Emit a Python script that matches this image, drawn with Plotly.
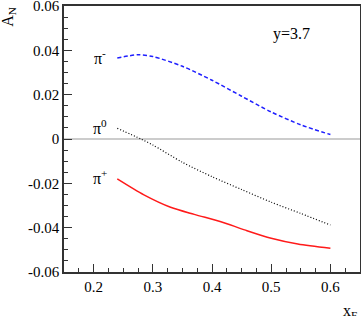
import plotly.graph_objects as go

# Asymmetry A_N vs x_F at y=3.7
x_pim = [0.24, 0.275, 0.30, 0.35, 0.40, 0.45, 0.50, 0.55, 0.60]
an_pim = [0.0365, 0.0380, 0.0372, 0.0328, 0.0265, 0.0193, 0.0122, 0.0064, 0.0020]

x_pi0 = [0.24, 0.28, 0.30, 0.35, 0.40, 0.45, 0.50, 0.55, 0.60]
an_pi0 = [0.0048, 0.0, -0.0027, -0.0105, -0.0170, -0.0228, -0.0285, -0.0336, -0.0388]

x_pip = [0.24, 0.285, 0.33, 0.37, 0.415, 0.455, 0.50, 0.545, 0.60]
an_pip = [-0.0180, -0.0252, -0.0308, -0.0340, -0.0373, -0.0410, -0.0448, -0.0474, -0.0493]

x_ticks = [0.2, 0.3, 0.4, 0.5, 0.6]
x_ticktext = ["0.2", "0.3", "0.4", "0.5", "0.6"]
y_ticks = [-0.06, -0.04, -0.02, 0, 0.02, 0.04, 0.06]
y_ticktext = ["-0.06", "-0.04", "-0.02", "0", "0.02", "0.04", "0.06"]

font_family = "Times New Roman, Liberation Serif, DejaVu Serif, serif"

fig = go.Figure()

# zero reference line
fig.add_trace(go.Scatter(
    x=[0.15, 0.65], y=[0, 0], mode="lines",
    line=dict(color="#9a9a9a", width=1.2), hoverinfo="skip",
))

fig.add_trace(go.Scatter(
    x=x_pim, y=an_pim, mode="lines", name="pi-",
    line=dict(color="#1f1fff", width=1.5, dash="4px,2.5px", shape="spline", smoothing=0.8),
))
fig.add_trace(go.Scatter(
    x=x_pi0, y=an_pi0, mode="lines", name="pi0",
    line=dict(color="black", width=1.2, dash="1px,2px", shape="spline", smoothing=0.8),
))
fig.add_trace(go.Scatter(
    x=x_pip, y=an_pip, mode="lines", name="pi+",
    line=dict(color="#ff1a1a", width=1.5, shape="spline", smoothing=0.8),
))

# curve labels
for txt, xx, yy in [("π<sup>-</sup>", 0.211, 0.0368),
                    ("π<sup>0</sup>", 0.211, 0.0055),
                    ("π<sup>+</sup>", 0.211, -0.0172),
                    ("y=3.7", 0.535, 0.0474)]:
    fig.add_annotation(x=xx, y=yy, text=txt, showarrow=False,
                       font=dict(family=font_family, size=16, color="black"))

# axis titles
fig.add_annotation(x=-0.186, y=0.959, xref="paper", yref="paper", text="A<sub>N</sub>",
                   showarrow=False, textangle=-90, xanchor="center", yanchor="middle",
                   font=dict(family=font_family, size=16, color="black"))
fig.add_annotation(x=0.997, y=-0.148, xref="paper", yref="paper", text="x<sub>F</sub>",
                   showarrow=False, xanchor="right", yanchor="middle",
                   font=dict(family=font_family, size=16, color="black"))

fig.update_layout(
    width=361, height=316,
    margin=dict(l=64, r=1, t=6, b=44, autoexpand=False),
    plot_bgcolor="white", paper_bgcolor="white",
    showlegend=False,
    font=dict(family=font_family, size=15, color="black"),
)

fig.update_xaxes(
    range=[0.15, 0.65], tickvals=x_ticks, ticktext=x_ticktext,
    ticks="inside", ticklen=8, tickcolor="#333", tickwidth=1,
    minor=dict(dtick=0.025, tick0=0.2, ticks="inside", ticklen=4, tickcolor="#333"),
    showline=True, linecolor="#333", linewidth=1.5, mirror=True,
    showgrid=False, zeroline=False, automargin=False, ticklabeloverflow="allow",
)
fig.update_yaxes(
    range=[-0.06, 0.06], tickvals=y_ticks, ticktext=y_ticktext,
    ticks="inside", ticklen=8, tickcolor="#333", tickwidth=1,
    minor=dict(dtick=0.005, tick0=0, ticks="inside", ticklen=4, tickcolor="#333"),
    showline=True, linecolor="#333", linewidth=1.5, mirror=True,
    showgrid=False, zeroline=False, automargin=False, ticklabeloverflow="allow",
)

# drop the default page margin so the figure fills the window
fig.write_html("out.html", config={"displayModeBar": False},
               post_script="document.body.style.margin='0';")
